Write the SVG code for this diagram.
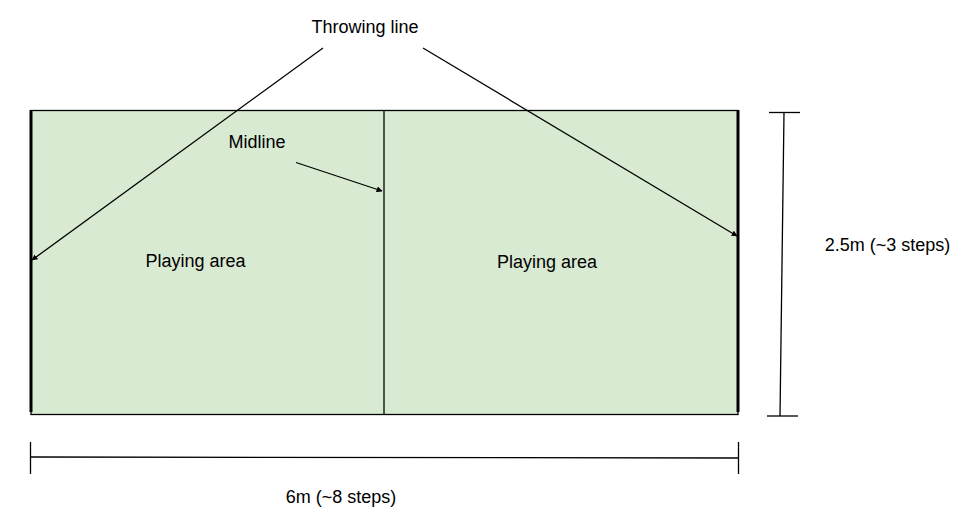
<svg xmlns="http://www.w3.org/2000/svg" width="972" height="527" viewBox="0 0 972 527">
<defs>
<marker id="ah" viewBox="0 0 10 10" refX="9" refY="5" markerWidth="6" markerHeight="6" markerUnits="userSpaceOnUse" orient="auto">
<path d="M0,0 L10,5 L0,10 z" fill="#000"/>
</marker>
</defs>
<style>
text{font-family:"Liberation Sans",Arial,sans-serif;font-size:18px;fill:#000;}
.ln{stroke:#000;stroke-width:1.3;fill:none;}
.thick{stroke:#000;stroke-width:3;}
</style>
<rect width="972" height="527" fill="#fff"/>
<g id="court">
<rect x="31" y="110.5" width="707" height="304" fill="#d9ead3" stroke="#000" stroke-width="1.3"/>
<line class="thick" x1="31" y1="110" x2="31" y2="412"/>
<line class="thick" x1="738" y1="110" x2="738" y2="412"/>
</g>
<g id="midline">
<line class="ln" x1="384" y1="110.5" x2="384" y2="414.5"/>
</g>
<g id="labels">
<text x="365" y="33" text-anchor="middle">Throwing line</text>
<text x="257" y="147.5" text-anchor="middle">Midline</text>
<text x="195.5" y="267" text-anchor="middle">Playing area</text>
<text x="547" y="268" text-anchor="middle">Playing area</text>
<text x="887.5" y="251" text-anchor="middle">2.5m (~3 steps)</text>
<text x="341" y="503" text-anchor="middle">6m (~8 steps)</text>
</g>
<g id="connectors">
<line class="ln" x1="323" y1="48" x2="32" y2="260" marker-end="url(#ah)"/>
<line class="ln" x1="423" y1="48" x2="737" y2="236" marker-end="url(#ah)"/>
<line class="ln" x1="296" y1="162.5" x2="382" y2="191" marker-end="url(#ah)"/>
</g>
<g id="dimensions">
<line class="ln" x1="769" y1="112.5" x2="800" y2="112.5"/>
<line class="ln" x1="784" y1="112.5" x2="780" y2="416"/>
<line class="ln" x1="767" y1="416" x2="798" y2="416"/>
<line class="ln" x1="30.5" y1="442" x2="30.5" y2="474"/>
<line class="ln" x1="30.5" y1="457" x2="738.5" y2="458"/>
<line class="ln" x1="738.5" y1="442" x2="738.5" y2="474"/>
</g>
</svg>
